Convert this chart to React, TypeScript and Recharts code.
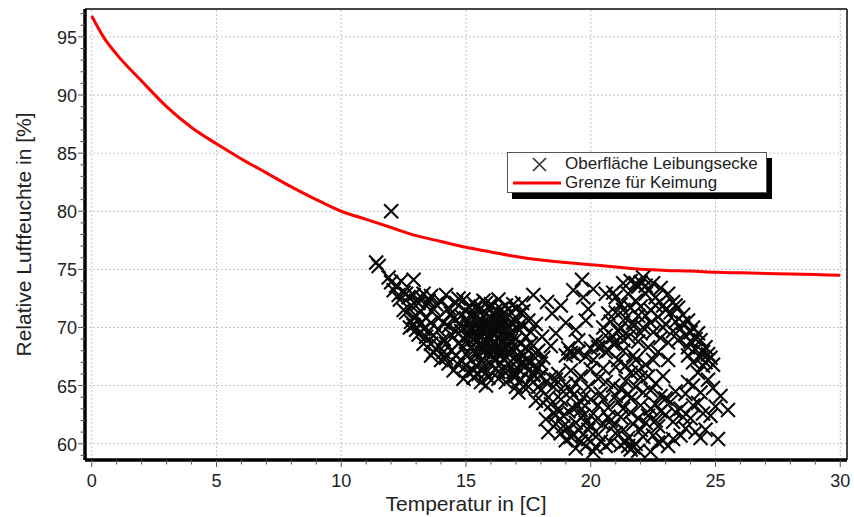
import { ComposedChart, Line, Scatter, XAxis, YAxis, ReferenceLine, Legend } from "recharts";

// Grenze für Keimung (red limit curve)
const curveT = [0, 0.5, 1, 2, 3, 4, 5, 6, 7, 8, 9, 10, 11, 12, 13, 14, 15, 16, 17, 18, 19, 20, 21, 22, 23, 24, 25, 26, 27, 28, 29, 30];
const curveRH = [96.8, 94.9, 93.5, 91.2, 89.0, 87.2, 85.8, 84.5, 83.3, 82.1, 81.0, 80.0, 79.3, 78.6, 77.9, 77.4, 76.9, 76.5, 76.1, 75.8, 75.6, 75.4, 75.2, 75.0, 74.9, 74.85, 74.75, 74.7, 74.65, 74.6, 74.55, 74.5];

// Oberfläche Leibungsecke, measured points [T, RH]
const outlier = [[12.0, 80.0]];

const bandUpper = [
  [11.4, 75.6], [11.5, 75.3], [11.9, 74.3], [12.0, 73.9], [12.2, 73.6], [12.4, 74.0], [12.9, 74.1], [12.35, 72.4],
  [12.6, 72.9], [13.3, 72.9], [13.0, 72.3], [12.5, 71.5], [12.9, 70.9], [12.75, 70.0], [13.0, 69.8], [13.2, 71.4],
  [13.4, 69.2], [13.6, 70.4], [13.8, 68.1], [13.7, 71.6], [14.0, 72.2], [14.2, 67.4], [14.0, 67.2], [13.6, 67.6],
  [14.1, 69.0], [14.3, 70.1], [14.4, 71.2], [14.6, 72.1], [14.5, 66.3], [14.7, 68.6], [14.8, 69.7], [13.9, 70.8],
  [13.3, 68.6], [14.4, 68.0], [12.8, 71.9], [13.5, 72.3], [14.2, 72.8],
  [12.1, 73.2], [12.3, 72.8], [12.5, 73.0], [12.7, 72.6], [12.9, 72.8], [13.1, 72.1], [13.2, 72.6], [13.4, 71.9],
  [13.6, 72.7], [13.8, 72.0], [12.6, 71.3], [12.8, 70.5], [13.0, 71.0], [13.2, 70.4], [13.4, 70.8], [13.5, 69.7],
  [13.7, 69.3], [13.9, 69.8], [14.1, 70.4], [14.3, 71.7], [14.5, 70.8], [14.6, 69.7], [14.2, 68.6], [14.4, 69.4],
  [13.6, 68.6], [13.9, 68.4], [14.1, 67.9], [14.3, 66.9], [14.6, 67.6], [14.8, 67.2], [14.9, 68.3], [13.1, 69.4],
  [13.3, 69.9], [12.9, 70.2], [14.8, 71.0], [14.7, 72.5], [14.9, 72.4], [13.7, 67.9],
];

const clusterCore = [
  [15.0, 71.4], [15.3, 72.1], [15.1, 70.6], [15.2, 69.7], [15.0, 68.8], [15.3, 68.0], [15.4, 70.9], [15.5, 70.0],
  [15.5, 69.3], [15.6, 71.7], [15.6, 68.6], [15.7, 70.5], [15.7, 67.9], [15.8, 69.8], [15.8, 71.2], [15.9, 69.1],
  [15.9, 68.3], [16.0, 70.8], [16.0, 72.0], [16.0, 67.6], [16.1, 70.1], [16.1, 69.4], [16.2, 71.5], [16.2, 68.7],
  [16.3, 70.4], [16.3, 69.0], [16.4, 71.0], [16.4, 68.1], [16.5, 69.7], [16.5, 70.6], [16.6, 67.5], [16.6, 69.2],
  [16.7, 70.1], [16.7, 68.5], [16.8, 71.3], [16.8, 69.6], [16.9, 68.0], [17.0, 70.5], [17.0, 69.0], [17.1, 67.3],
  [15.2, 67.2], [15.4, 66.7], [15.8, 66.1], [16.2, 66.5], [16.7, 66.9], [15.0, 66.7], [15.6, 65.3], [15.8, 65.0],
  [14.9, 70.0], [15.1, 71.8], [15.7, 72.3], [16.3, 72.4], [16.9, 72.0], [16.1, 68.0], [15.5, 67.5], [15.3, 69.0],
  [16.4, 69.4], [15.9, 70.3], [16.6, 70.9], [15.6, 69.9], [16.0, 69.0], [16.2, 69.8],
  [15.1, 70.2], [15.2, 71.1], [15.4, 70.4], [15.5, 71.4], [15.6, 70.6], [15.7, 69.5], [15.8, 70.1], [15.9, 71.7],
  [16.0, 69.6], [16.1, 71.1], [16.2, 70.1], [16.3, 70.8], [16.4, 70.0], [16.5, 71.2], [16.6, 69.8], [16.7, 69.4],
  [16.8, 68.9], [16.9, 70.7], [17.0, 71.6], [17.1, 69.9], [17.2, 68.6], [17.3, 70.1], [17.4, 69.2], [17.5, 68.0],
  [15.3, 68.5], [15.5, 68.9], [15.7, 68.2], [15.9, 67.8], [16.1, 68.6], [16.3, 67.9], [16.5, 68.8], [16.7, 67.9],
  [16.9, 67.3], [15.4, 67.9], [15.6, 67.1], [16.0, 66.8], [16.4, 66.9], [16.8, 66.6], [17.2, 66.9], [17.5, 66.3],
  [15.3, 66.3], [15.0, 67.7], [15.9, 65.7], [16.3, 65.6], [16.6, 65.3], [17.0, 64.9], [17.3, 64.9], [17.6, 65.5],
  [17.8, 66.4], [18.0, 65.9],
];

const coreFill = [
  [14.7, 70.3], [14.9, 69.1], [15.0, 70.7], [15.1, 69.3], [15.2, 68.3], [15.4, 69.6], [15.6, 68.3], [15.8, 68.9],
  [16.0, 68.2], [16.2, 67.3], [16.4, 67.6], [16.6, 68.1], [16.8, 68.2], [17.0, 68.3], [17.2, 67.8], [17.4, 67.2],
  [17.6, 68.6], [17.8, 67.8], [18.0, 66.9], [17.1, 66.4], [16.9, 65.8], [16.5, 66.3], [15.7, 66.6], [15.1, 66.2],
  [14.7, 66.8], [15.4, 71.8], [15.8, 72.1], [16.6, 71.9], [17.3, 71.4], [17.6, 69.6], [16.1, 67.3], [15.3, 65.7],
  [14.9, 65.6], [16.8, 70.4], [15.2, 70.0], [16.4, 71.6], [17.2, 70.3], [15.5, 66.0], [16.3, 66.2], [17.7, 66.0],
];

const bandLower = [
  [16.9, 66.2], [17.1, 64.4], [17.2, 65.5], [17.4, 66.8], [17.5, 64.9], [17.7, 65.9], [17.8, 63.7], [17.9, 66.5],
  [18.0, 64.6], [18.2, 62.1], [18.2, 65.3], [18.3, 61.0], [18.4, 63.4], [18.5, 64.9], [18.6, 62.5], [18.7, 66.0],
  [18.8, 63.8], [18.9, 61.5], [19.0, 65.1], [19.1, 62.8], [19.2, 60.6], [19.3, 64.2], [19.4, 61.8], [19.5, 63.3],
  [19.6, 60.2], [19.7, 62.4], [19.8, 59.8], [19.9, 61.2], [20.1, 59.3], [20.0, 63.8], [20.2, 62.0], [20.3, 60.8],
  [17.3, 67.6], [17.6, 67.0], [18.1, 67.4], [17.0, 65.8], [16.6, 66.1], [18.6, 65.5], [19.2, 66.3],
  [17.9, 64.9], [18.1, 63.5], [18.3, 64.0], [18.5, 62.6], [18.7, 63.0], [18.9, 62.4], [19.1, 61.4], [19.3, 60.7],
  [18.6, 61.7], [18.8, 60.9], [19.0, 60.3], [19.5, 61.2], [19.7, 60.8], [19.9, 60.4], [20.2, 59.7], [19.4, 59.6],
  [19.8, 61.8], [20.1, 62.6], [19.2, 64.6], [19.6, 63.6], [18.4, 65.7], [18.9, 64.5],
];

const midSparse = [
  [17.25, 72.1], [17.7, 72.8], [18.25, 72.2], [18.8, 71.9], [19.3, 73.2], [19.65, 74.1], [19.7, 72.6], [20.6, 72.9],
  [17.5, 70.6], [17.8, 70.3], [18.45, 71.2], [19.0, 70.4], [19.8, 70.6], [20.5, 70.0], [18.05, 69.2], [17.4, 68.3],
  [19.5, 68.9], [20.7, 71.2], [17.2, 71.3], [18.6, 69.5], [19.2, 67.8], [17.9, 68.0], [20.2, 68.8], [19.9, 71.6],
  [18.4, 68.4], [20.1, 73.3], [20.9, 73.0],
  [19.4, 69.8], [19.1, 68.2], [19.8, 67.5], [20.0, 66.4], [19.4, 65.2], [19.7, 64.0], [20.3, 63.3], [19.6, 62.9],
  [20.0, 61.6], [19.3, 63.0], [20.4, 60.2], [19.0, 67.6], [19.5, 67.9], [20.0, 68.2], [20.5, 68.5], [21.0, 68.7],
  [21.3, 68.9], [19.3, 67.7], [20.3, 68.3],
];

const rightArc = [
  [21.3, 73.8], [21.6, 74.0], [22.1, 74.3], [22.5, 73.8], [22.3, 73.2], [22.8, 73.4], [23.1, 72.9], [23.3, 72.2],
  [23.5, 71.7], [23.7, 71.1], [23.9, 70.6], [24.1, 70.0], [24.3, 69.5], [24.4, 68.9], [24.6, 68.3], [24.7, 67.7],
  [24.8, 67.4], [24.9, 66.8], [24.7, 67.2], [22.6, 72.6], [22.9, 71.9], [23.2, 71.3], [23.4, 70.5], [23.6, 69.9],
  [23.8, 69.3], [24.0, 68.8], [24.2, 68.1], [24.4, 67.4], [24.5, 66.7], [21.9, 73.5], [22.2, 72.9], [21.5, 72.9],
  [21.8, 72.3], [22.0, 71.8], [22.4, 71.5], [22.7, 70.9], [23.0, 70.3], [21.2, 72.0], [21.0, 71.3], [21.4, 70.8],
  [21.7, 70.4], [22.1, 70.0], [22.5, 69.6], [22.8, 69.1], [23.1, 68.7], [22.0, 73.9], [22.2, 73.6], [21.8, 73.8],
  [21.0, 72.6], [21.3, 71.5], [21.6, 71.7], [21.9, 71.0], [22.2, 71.0], [22.6, 71.9], [23.0, 71.5], [23.4, 71.9],
  [23.7, 70.4], [24.0, 69.6], [24.2, 69.0], [24.5, 67.9], [24.6, 67.0], [23.9, 68.3], [23.5, 68.9], [23.3, 69.7],
  [22.9, 70.0], [22.4, 70.4], [22.0, 69.5], [21.6, 69.9], [21.2, 70.0],
];

const rightLower = [
  [20.8, 70.5], [21.1, 69.7], [21.5, 69.2], [21.9, 68.8], [22.3, 68.3], [22.7, 67.9], [20.9, 68.6], [21.3, 68.0],
  [21.7, 67.6], [20.6, 67.9], [21.1, 67.2], [22.5, 67.2], [23.1, 67.2], [23.9, 67.6], [24.1, 67.0], [21.6, 66.1],
  [22.3, 65.8], [20.9, 65.0], [22.1, 64.4], [22.8, 64.1], [21.1, 63.6], [23.2, 63.6], [23.6, 63.0], [22.4, 63.0],
  [21.6, 62.7], [23.3, 61.9], [22.0, 61.2], [21.3, 61.2], [23.6, 60.7], [22.5, 60.7], [23.1, 59.8], [22.4, 59.3],
  [21.5, 59.8], [21.6, 59.5], [21.7, 59.7], [20.8, 60.1], [24.1, 65.0], [23.9, 65.3], [25.2, 64.1], [25.5, 62.9],
  [24.8, 62.4], [25.1, 60.4], [24.3, 63.5], [24.0, 62.2], [24.6, 61.2], [23.8, 64.3], [24.2, 61.0], [20.5, 66.5],
  [20.4, 64.3], [20.7, 63.1], [20.5, 61.7], [21.8, 64.9], [22.6, 62.0], [22.9, 60.3], [21.0, 60.9], [20.3, 65.6],
  [24.4, 64.4], [23.0, 62.5], [21.4, 65.4], [20.6, 69.3], [20.1, 67.2], [19.6, 65.8], [19.9, 64.9], [20.7, 62.3],
  [21.4, 60.2], [21.8, 60.0], [21.5, 60.5], [21.2, 64.7], [21.6, 63.9], [22.0, 63.3], [22.3, 62.4], [21.7, 61.7],
  [22.7, 61.5], [22.2, 66.8], [21.9, 66.3], [22.9, 65.8], [23.4, 62.7],
  [20.9, 69.2], [20.7, 68.0], [21.0, 66.6], [21.4, 66.7], [21.8, 67.2], [22.0, 65.7], [22.6, 65.2], [22.4, 64.6],
  [21.5, 64.3], [21.0, 64.1], [20.6, 65.3], [20.8, 62.0], [21.2, 62.3], [21.9, 62.2], [22.2, 61.8], [22.6, 63.4],
  [23.0, 63.9], [23.4, 64.5], [23.7, 62.3], [24.1, 63.3], [24.5, 62.6], [24.7, 65.5], [24.3, 66.1], [22.1, 60.6],
  [22.7, 60.1], [23.3, 60.4], [21.9, 59.4], [21.2, 59.9], [20.6, 59.8], [23.8, 61.3], [24.4, 60.5], [22.8, 62.8],
  [20.9, 61.5], [24.9, 64.8], [25.0, 63.2], [20.5, 63.8], [21.3, 63.0],
];

const xMajor = [0, 5, 10, 15, 20, 25, 30];
const yMajor = [60, 65, 70, 75, 80, 85, 90, 95];
const xTicks = Array.from({ length: 31 }, (_, i) => i);
const yTicks = Array.from({ length: 39 }, (_, i) => 59 + i);

const X_DOMAIN = [-0.27, 30.27];
const Y_DOMAIN = [58.6, 97.4];

const curveData = curveT.map((t, i) => ({ x: t, y: curveRH[i] }));
const pointData = [
  ...outlier,
  ...bandUpper,
  ...clusterCore,
  ...coreFill,
  ...bandLower,
  ...midSparse,
  ...rightArc,
  ...rightLower,
].map(([x, y]) => ({ x, y }));

const FONT = "'Liberation Sans', Arial, sans-serif";

function Cross(props: any) {
  const { cx, cy } = props;
  if (cx == null || cy == null) return null;
  const r = 7;
  return (
    <path
      d={`M${cx - r},${cy - r}L${cx + r},${cy + r}M${cx - r},${cy + r}L${cx + r},${cy - r}`}
      stroke="#0a0a0a"
      strokeWidth={2.1}
      fill="none"
    />
  );
}

function XTick({ x, y, payload }: any) {
  const major = xMajor.includes(payload.value);
  return (
    <g>
      <line x1={x} x2={x} y1={y} y2={y + (major ? 7 : 4.5)} stroke="#555" strokeWidth={1} />
      {major && (
        <text x={x} y={y + 27} textAnchor="middle" fontSize={18} fill="#222" fontFamily={FONT}>
          {payload.value}
        </text>
      )}
    </g>
  );
}

function YTick({ x, y, payload }: any) {
  const major = yMajor.includes(payload.value);
  return (
    <g>
      <line x1={x} x2={x - (major ? 7 : 4.5)} y1={y} y2={y} stroke="#555" strokeWidth={1} />
      {major && (
        <text x={x - 8} y={y + 7} textAnchor="end" fontSize={18} fill="#222" fontFamily={FONT}>
          {payload.value}
        </text>
      )}
    </g>
  );
}

function LegendBox() {
  return (
    <div
      style={{
        width: 258,
        height: 39,
        border: "1px solid #555",
        background: "#fff",
        boxShadow: "5px 6px 0 #000",
        fontFamily: FONT,
        fontSize: 17,
        color: "#222",
        position: "relative",
      }}
    >
      <svg width={56} height={39} style={{ position: "absolute", left: 0, top: 0 }}>
        <path d="M25,5L38,18M25,18L38,5" stroke="#333" strokeWidth={1.7} />
        <line x1={5} x2={53} y1={30} y2={30} stroke="#ff0000" strokeWidth={3} />
      </svg>
      <div style={{ position: "absolute", left: 57, top: 1, lineHeight: "19px" }}>Oberfläche Leibungsecke</div>
      <div style={{ position: "absolute", left: 57, top: 20, lineHeight: "19px" }}>Grenze für Keimung</div>
    </div>
  );
}

export default function App() {
  return (
    <div style={{ width: 854, height: 517, background: "#fff", fontFamily: FONT }}>
      <style>{"body{margin:0}"}</style>
      <ComposedChart width={854} height={517} margin={{ top: 9, right: 7, left: 0, bottom: 0 }}>
        <XAxis
          dataKey="x"
          type="number"
          domain={X_DOMAIN}
          allowDataOverflow
          ticks={xTicks}
          interval={0}
          tickSize={0}
          tickMargin={0}
          tick={<XTick />}
          tickLine={false}
          height={57}
          axisLine={{ stroke: "#000", strokeWidth: 3.5 }}
          label={{ value: "Temperatur in [C]", position: "insideBottom", offset: 6, fontSize: 21, fill: "#222", fontFamily: FONT }}
        />
        <YAxis
          dataKey="y"
          type="number"
          domain={Y_DOMAIN}
          allowDataOverflow
          ticks={yTicks}
          interval={0}
          tickSize={0}
          tickMargin={0}
          tick={<YTick />}
          tickLine={false}
          width={85}
          axisLine={{ stroke: "#000", strokeWidth: 3.5 }}
          label={{
            value: "Relative Luftfeuchte in [%]",
            angle: -90,
            position: "insideLeft",
            offset: 24,
            fontSize: 21,
            fill: "#222",
            fontFamily: FONT,
            style: { textAnchor: "middle" },
          }}
        />
        {xMajor.map((v) => (
          <ReferenceLine key={"gx" + v} x={v} stroke="#c4c4c4" strokeDasharray="2 2" />
        ))}
        {yMajor.map((v) => (
          <ReferenceLine key={"gy" + v} y={v} stroke="#c4c4c4" strokeDasharray="2 2" />
        ))}
        <ReferenceLine y={Y_DOMAIN[1]} stroke="#444" strokeWidth={2} />
        <ReferenceLine x={X_DOMAIN[1]} stroke="#444" strokeWidth={2} />
        <Line
          data={curveData}
          dataKey="y"
          type="monotone"
          stroke="#ff0000"
          strokeWidth={3}
          dot={false}
          activeDot={false}
          isAnimationActive={false}
        />
        <Scatter data={pointData} dataKey="y" shape={<Cross />} isAnimationActive={false} />
        <Legend
          layout="vertical"
          align="center"
          verticalAlign="middle"
          content={() => <LegendBox />}
          wrapperStyle={{ left: 507, top: 152, width: 260, height: 41 }}
        />
      </ComposedChart>
    </div>
  );
}
